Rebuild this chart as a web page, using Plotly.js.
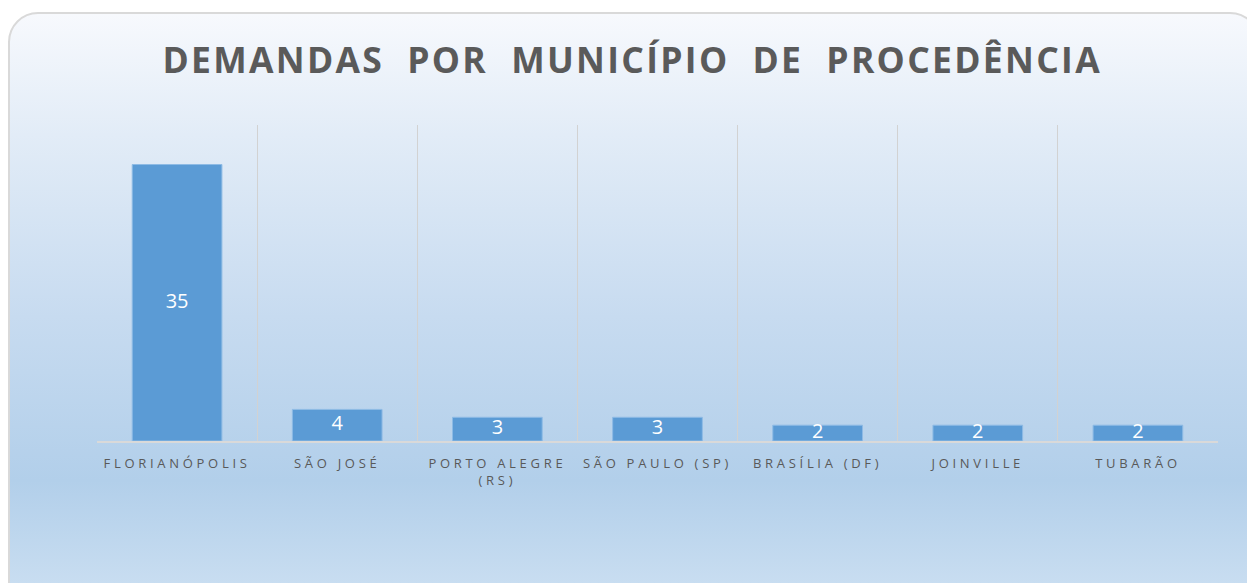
<!DOCTYPE html>
<html>
<head>
<meta charset="utf-8">
<script src="https://cdn.plot.ly/plotly-3.0.1.min.js"></script>
<style>
  html, body { margin:0; padding:0; width:1247px; height:583px; overflow:hidden; background:#ffffff; }
  #frame {
    position:absolute; left:8px; top:12px; width:1252px; height:610px;
    box-sizing:border-box; border:2px solid #d9d9d9; border-radius:30px;
    background:linear-gradient(to bottom, #f7f9fd 0%, #e2ecf7 20%, #c7dbf0 50%, #b2cfea 77%, #d0e2f3 100%);
  }
  #chart { position:absolute; left:0; top:0; width:1247px; height:583px; }
  #chart .xtick text { letter-spacing:3.7px; }
  #chart .gtitle { letter-spacing:2.3px; }
</style>
</head>
<body>
<div id="frame"></div>
<div id="chart"></div>
<script>
const categories = ["FLORIANÓPOLIS", "SÃO JOSÉ", "PORTO ALEGRE<br>(RS)", "SÃO PAULO (SP)", "BRASÍLIA (DF)", "JOINVILLE", "TUBARÃO"];
const values = [35, 4, 3, 3, 2, 2, 2];
const labelText = values.map(v => String(v));
const labelY = values.map(v => v / 2);

const bars = {
  type: 'bar',
  x: categories,
  y: values,
  marker: { color: '#5b9bd5', line: { color: '#8ebbe5', width: 1 } },
  hoverinfo: 'none',
  showlegend: false
};
const labels = {
  type: 'scatter',
  mode: 'text',
  x: categories,
  y: labelY,
  text: labelText,
  textposition: 'middle center',
  textfont: { family: 'Open Sans, sans-serif', size: 20, color: '#ffffff' },
  hoverinfo: 'none',
  showlegend: false,
  cliponaxis: false
};

const layout = {
  width: 1247,
  height: 583,
  margin: { l: 97, r: 29, t: 125, b: 142 },
  paper_bgcolor: 'rgba(0,0,0,0)',
  plot_bgcolor: 'rgba(0,0,0,0)',
  bargap: 0.44,
  title: {
    text: 'DEMANDAS  POR  MUNICÍPIO  DE  PROCEDÊNCIA',
    font: { family: 'Open Sans, sans-serif', size: 35.5, color: '#5a5a5a', weight: 'bold' },
    x: 0.507, xanchor: 'center',
    y: 0.896, yanchor: 'middle'
  },
  xaxis: {
    type: 'category',
    tickson: 'boundaries',
    showgrid: true,
    gridcolor: '#d2d2d2',
    gridwidth: 1,
    showline: true,
    linecolor: '#d9d9d9',
    linewidth: 1.5,
    ticks: '',
    ticklabelstandoff: 10,
    tickfont: { family: 'Open Sans, sans-serif', size: 13, color: '#595959' },
    fixedrange: true
  },
  yaxis: {
    range: [0, 40],
    visible: false,
    showgrid: false,
    zeroline: false,
    fixedrange: true
  }
};

Plotly.newPlot('chart', [bars, labels], layout, { displayModeBar: false, staticPlot: true });
</script>
</body>
</html>
